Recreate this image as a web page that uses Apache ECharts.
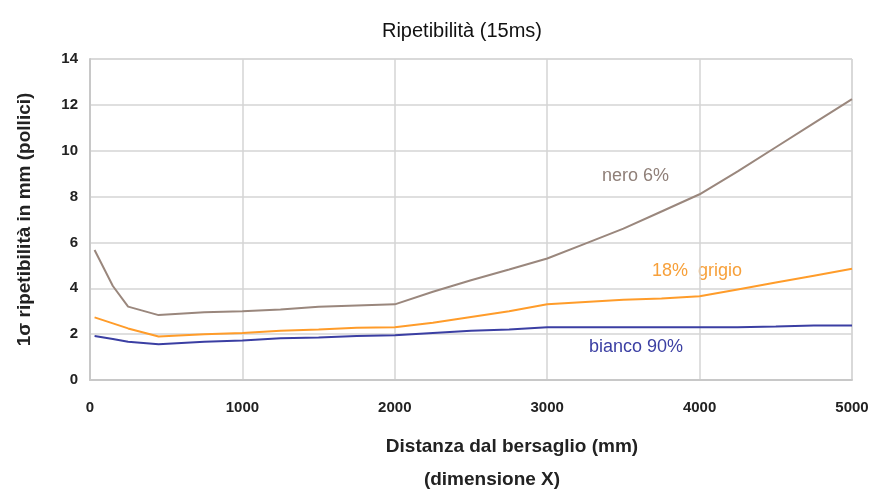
<!DOCTYPE html>
<html>
<head>
<meta charset="utf-8">
<script src="https://cdn.jsdelivr.net/npm/echarts@6/dist/echarts.min.js"></script>
<style>
  html, body { margin: 0; padding: 0; background: #fff; }
  #chart { width: 872px; height: 490px; }
</style>
</head>
<body>
<div id="chart"></div>
<script>
// distanze dal bersaglio (mm)
const distances = [30, 150, 250, 450, 750, 1000, 1250, 1500, 1750, 2000, 2250, 2500, 2750, 3000, 3250, 3500, 3750, 4000, 4250, 4500, 4750, 5000]
// ripetibilità in mm
const nero6 = [5.67, 4.1, 3.2, 2.83, 2.95, 3.0, 3.08, 3.2, 3.25, 3.3, 3.85, 4.35, 4.82, 5.3, 5.95, 6.6, 7.35, 8.1, 9.1, 10.15, 11.2, 12.25]
const grigio18 = [2.73, 2.47, 2.25, 1.9, 2.0, 2.05, 2.15, 2.2, 2.28, 2.3, 2.5, 2.75, 3.0, 3.3, 3.4, 3.5, 3.55, 3.65, 3.95, 4.25, 4.55, 4.85]
const bianco90 = [1.92, 1.79, 1.67, 1.56, 1.67, 1.72, 1.82, 1.85, 1.92, 1.95, 2.05, 2.15, 2.2, 2.3, 2.3, 2.3, 2.3, 2.3, 2.3, 2.33, 2.38, 2.38]
const xTicks = [0, 1000, 2000, 3000, 4000, 5000]
const yTicks = [0, 2, 4, 6, 8, 10, 12, 14]

const font = "'Liberation Sans', sans-serif"
const pairs = (ys) => distances.map((d, i) => [d, ys[i]])

const chart = echarts.init(document.getElementById('chart'))

const option = {
  animation: false,
  textStyle: { fontFamily: font },
  title: {
    text: 'Ripetibilità (15ms)',
    left: 457,
    top: 16,
    textAlign: 'center',
    textStyle: { fontFamily: font, fontSize: 20, fontWeight: 'normal', color: '#111' },
  },
  grid: { left: 90, right: 20, top: 59, bottom: 110, show: true, borderColor: '#d4d4d4', borderWidth: 1 },
  xAxis: {
    type: 'value',
    min: 0,
    max: 5000,
    interval: 1000,
    axisLine: { show: true, lineStyle: { color: '#c8c8c8', width: 2 } },
    axisTick: { show: false },
    splitLine: { show: true, lineStyle: { color: '#d4d4d4', width: 1.5 } },
    axisLabel: {
      margin: 20,
      fontFamily: font,
      fontSize: 15,
      fontWeight: 'bold',
      color: '#222',
      formatter: (v) => (xTicks.includes(v) ? String(v) : ''),
    },
  },
  yAxis: {
    type: 'value',
    min: 0,
    max: 14,
    interval: 2,
    name: '1σ ripetibilità in mm (pollici)',
    nameLocation: 'middle',
    nameGap: 56,
    nameTextStyle: { fontFamily: font, fontSize: 19, fontWeight: 'bold', color: '#222' },
    axisLine: { show: true, lineStyle: { color: '#c8c8c8', width: 2 } },
    axisTick: { show: false },
    splitLine: { show: true, lineStyle: { color: '#d4d4d4', width: 1.5 } },
    axisLabel: {
      margin: 12,
      fontFamily: font,
      fontSize: 15,
      fontWeight: 'bold',
      color: '#222',
      formatter: (v) => (yTicks.includes(v) ? String(v) : ''),
    },
  },
  series: [
    {
      name: 'nero 6%',
      type: 'line',
      data: pairs(nero6),
      showSymbol: false,
      lineStyle: { color: '#9a877d', width: 2 },
    },
    {
      name: '18% grigio',
      type: 'line',
      data: pairs(grigio18),
      showSymbol: false,
      lineStyle: { color: '#ff9c2a', width: 2 },
    },
    {
      name: 'bianco 90%',
      type: 'line',
      data: pairs(bianco90),
      showSymbol: false,
      lineStyle: { color: '#3b3fa3', width: 2 },
    },
  ],
  graphic: [
    { type: 'text', left: 602, top: 167, style: { text: 'nero 6%', font: '18px ' + font, fill: '#8f7f78' } },
    { type: 'text', left: 652, top: 262, style: { text: '18%  grigio', font: '18px ' + font, fill: '#f7a03a' } },
    { type: 'text', left: 589, top: 338, style: { text: 'bianco 90%', font: '18px ' + font, fill: '#3b3fa3' } },
    {
      type: 'text',
      x: 512,
      y: 447,
      style: { text: 'Distanza dal bersaglio (mm)', font: 'bold 19px ' + font, fill: '#222', align: 'center', verticalAlign: 'middle' },
    },
    {
      type: 'text',
      x: 492,
      y: 480,
      style: { text: '(dimensione X)', font: 'bold 19px ' + font, fill: '#222', align: 'center', verticalAlign: 'middle' },
    },
  ],
}

chart.setOption(option)
</script>
</body>
</html>
